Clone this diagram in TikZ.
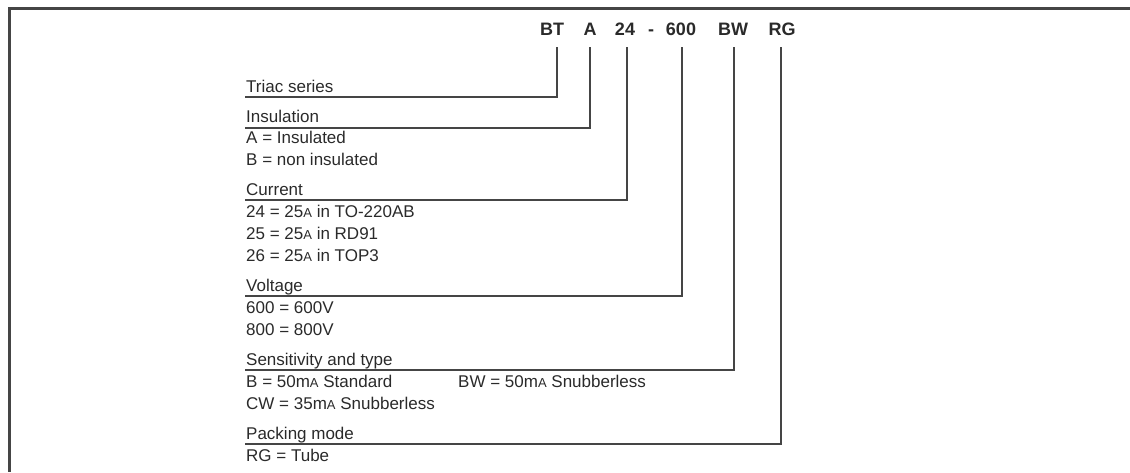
\documentclass[tikz,border=0pt]{standalone}
\usepackage{fontspec}
\setmainfont{Liberation Sans}
\definecolor{ink}{HTML}{2A2A2A}
\definecolor{wire}{HTML}{454545}
\newcommand{\smA}{{\fontsize{13}{13}\selectfont A}}
\tikzset{
  code/.style={anchor=base, inner sep=0pt, font=\fontsize{18}{18}\selectfont\bfseries, text=ink},
  txt/.style={anchor=base west, inner sep=0pt, font=\fontsize{17}{22}\selectfont, text=ink},
  conn/.style={draw=wire, line width=2pt},
  frame/.style={draw=wire, line width=2.5pt}
}
\begin{document}
\begin{tikzpicture}[x=1pt,y=-1pt]
\useasboundingbox (0,0) rectangle (1130,472);
% frame
\coordinate (fTR) at (1130,8.5);
\coordinate (fTL) at (9.5,8.5);
\coordinate (fBL) at (9.5,472);
\draw[frame] (fTR) -- (fTL) -- (fBL);
% code labels
\node[code] (cBT) at (552,35) {BT};
\node[code] (cA) at (590,35) {A};
\node[code] (c24) at (625,35) {24};
\node[code] (cdash) at (651,35) {-};
\node[code] (c600) at (681,35) {600};
\node[code] (cBW) at (733,35) {BW};
\node[code] (cRG) at (782,35) {RG};
% tops of connectors
\coordinate (tBT) at (557,47);
\coordinate (tA) at (590,47);
\coordinate (t24) at (627,47);
\coordinate (t600) at (682,47);
\coordinate (tBW) at (734,47);
\coordinate (tRG) at (781,47);
% texts
\node[txt] (hTriac) at (246,92) {Triac series};
\node[txt] (hIns) at (246,122) {Insulation};
\node[txt] (iA) at (246,143) {A = Insulated};
\node[txt] (iB) at (246,165) {B = non insulated};
\node[txt] (hCur) at (246,195) {Current};
\node[txt] (i24) at (246,217) {24 = 25\smA{} in TO-220AB};
\node[txt] (i25) at (246,239) {25 = 25\smA{} in RD91};
\node[txt] (i26) at (246,261) {26 = 25\smA{} in TOP3};
\node[txt] (hVolt) at (246,291) {Voltage};
\node[txt] (i600) at (246,313) {600 = 600V};
\node[txt] (i800) at (246,335) {800 = 800V};
\node[txt] (hSens) at (246,365) {Sensitivity and type};
\node[txt] (iBs) at (246,387) {B = 50m\smA{} Standard};
\node[txt] (iBW) at (458,387) {BW = 50m\smA{} Snubberless};
\node[txt] (iCW) at (246,409) {CW = 35m\smA{} Snubberless};
\node[txt] (hPack) at (246,439) {Packing mode};
\node[txt] (iRG) at (246,461) {RG = Tube};
% line ends
\coordinate (eTriac) at (245,97);
\coordinate (eIns) at (245,128);
\coordinate (eCur) at (245,200);
\coordinate (eVolt) at (245,296);
\coordinate (eSens) at (245,370);
\coordinate (ePack) at (245,444);
% connectors
\draw[conn] (tBT) |- (eTriac);
\draw[conn] (tA) |- (eIns);
\draw[conn] (t24) |- (eCur);
\draw[conn] (t600) |- (eVolt);
\draw[conn] (tBW) |- (eSens);
\draw[conn] (tRG) |- (ePack);
\end{tikzpicture}
\end{document}
